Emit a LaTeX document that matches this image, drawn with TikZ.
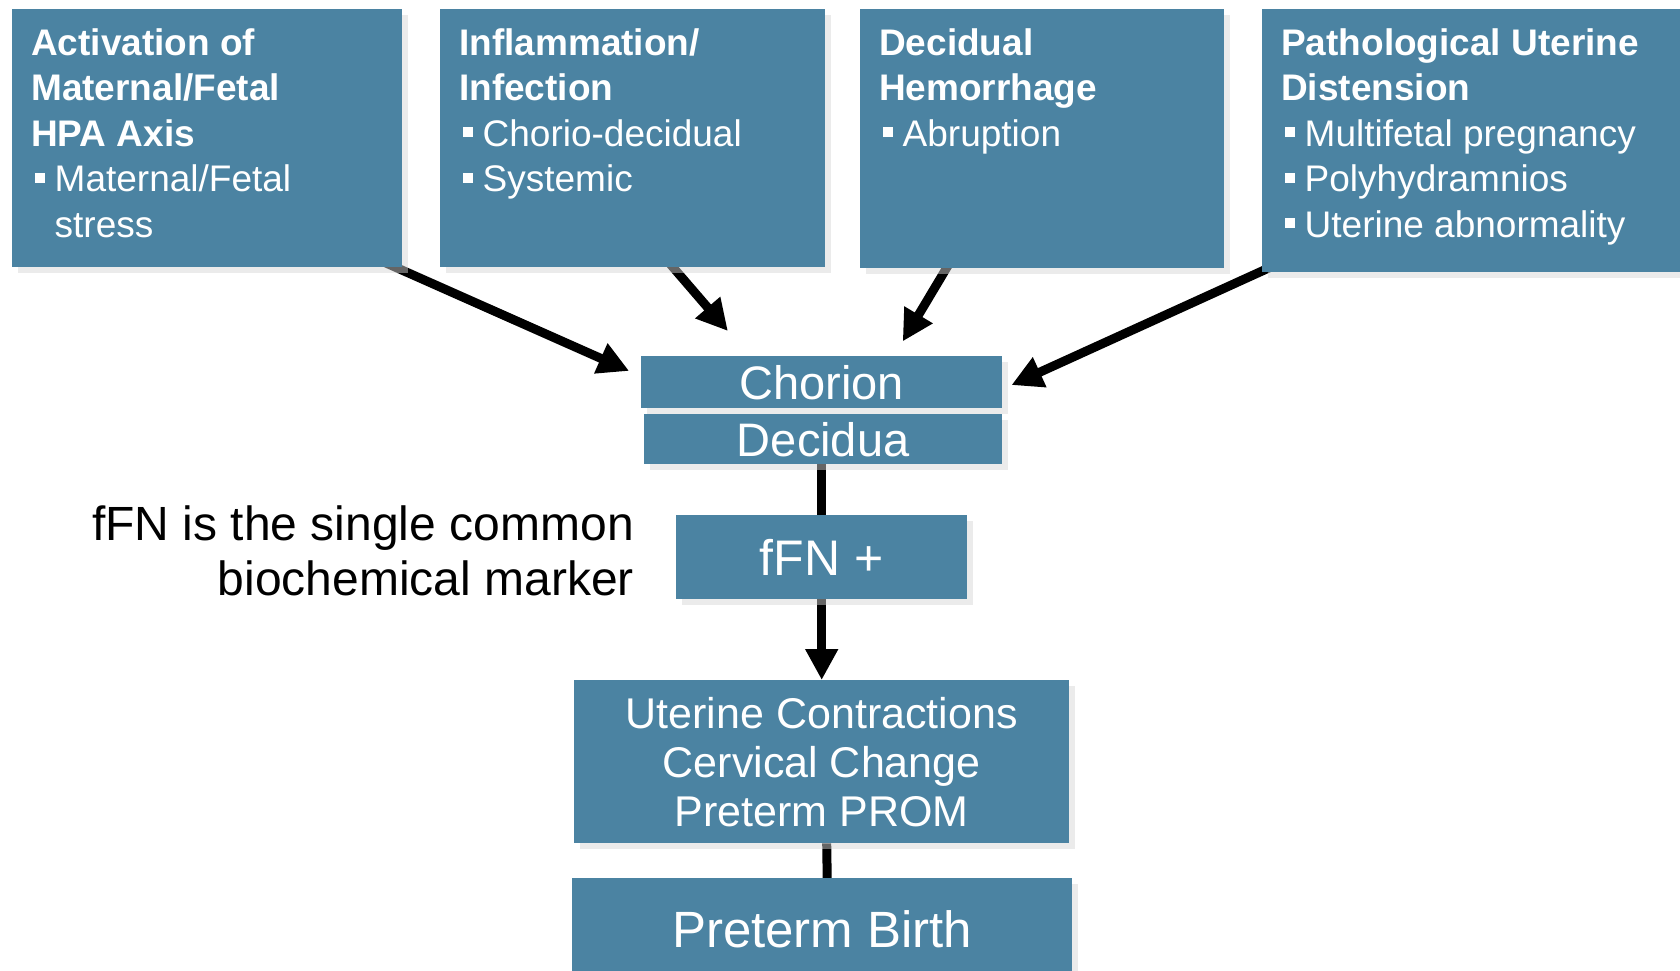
\documentclass[tikz,border=0pt]{standalone}
\usepackage{fontspec}
\setmainfont{Liberation Sans}
\usetikzlibrary{arrows.meta,shadows,calc,backgrounds}

\definecolor{boxblue}{RGB}{75,131,162}
\definecolor{shadowgrey}{RGB}{213,213,213}

% square bullet with hanging indent
\newcommand{\sqitem}[1]{\par\hangindent=23.5pt\hangafter=1\noindent
  \makebox[23.5pt][l]{\hspace{3.5pt}\rule[9pt]{10pt}{10pt}}#1}

\tikzset{
  box/.style={fill=boxblue, text=white, inner sep=0pt, anchor=north west,
    drop shadow={shadow xshift=6pt, shadow yshift=-6pt, fill=shadowgrey, opacity=0.48}},
  causebox/.style={box, inner xsep=19pt, inner ysep=0pt,
    font=\fontsize{37pt}{45.5pt}\selectfont},
  flowbox/.style={box, align=center},
  arrowline/.style={line width=9pt, -{Triangle[length=31pt,width=31pt]}},
  plainline/.style={line width=9pt},
}

\begin{document}
\begin{tikzpicture}[x=1pt, y=-1pt]
    \useasboundingbox (0,0) rectangle (1680,970);

    % Draw the four causes
    \node[causebox] (act) at (12,9) {\parbox[c][258pt][t]{352pt}{\raggedright\vspace*{19pt}%
        \textbf{Activation of\\Maternal/Fetal\\HPA Axis}\sqitem{Maternal/Fetal\newline stress}}};
    \node[causebox] (infl) at (440,9) {\parbox[c][258pt][t]{347pt}{\raggedright\vspace*{19pt}%
        \textbf{Inflammation/\\Infection}\sqitem{Chorio-decidual}\sqitem{Systemic}}};
    \node[causebox] (hem) at (860,9) {\parbox[c][259pt][t]{326pt}{\raggedright\vspace*{19pt}%
        \textbf{Decidual\\Hemorrhage}\sqitem{Abruption}}};
    \node[causebox] (dist) at (1262,9) {\parbox[c][263pt][t]{420pt}{\raggedright\vspace*{19pt}%
        \textbf{Pathological Uterine\\Distension}\sqitem{Multifetal pregnancy}%
        \sqitem{Polyhydramnios}\sqitem{Uterine abnormality}}};

    % Draw the pathway
    \node[flowbox, minimum width=361, minimum height=52, font=\fontsize{47pt}{50pt}\selectfont]
        (chorion) at (641,356) {Chorion};
    \node[flowbox, minimum width=358, minimum height=50, font=\fontsize{47pt}{50pt}\selectfont]
        (decidua) at (644,414) {Decidua};
    \node[flowbox, minimum width=291, minimum height=84, font=\fontsize{50pt}{55pt}\selectfont]
        (ffn) at (676,515) {fFN +};
    \node[flowbox, minimum width=495, minimum height=163, font=\fontsize{43pt}{49pt}\selectfont]
        (uterine) at (574,680) {Uterine Contractions\\Cervical Change\\Preterm PROM};
    \node[flowbox, minimum width=500, minimum height=103, font=\fontsize{51pt}{55pt}\selectfont]
        (birth) at (572,878) {Preterm Birth};

    % Side note
    \node[anchor=north east, inner sep=0pt, align=right, font=\fontsize{48pt}{55pt}\selectfont]
        (marker) at (634,506) {fFN is the single common\\biochemical marker};

    % Draw the connectors
    \begin{pgfonlayer}{background}
        \draw[arrowline, shorten >=13pt] ([xshift=-20pt,yshift=6pt]act.south east)
            -- ([yshift=6pt]chorion.west);
        \draw[arrowline, shorten >=33pt] ($(infl.south west)!0.587!(infl.south east)+(0,-8)$)
            -- ($(chorion.north west)!0.3!(chorion.north east)$);
        \draw[arrowline, shorten >=17pt] ($(hem.south west)!0.25!(hem.south east)+(0,-8)$)
            -- ($(chorion.north west)!0.7!(chorion.north east)$);
        \draw[arrowline, shorten >=10pt] ([xshift=19pt,yshift=10pt]dist.south west)
            -- ([yshift=-7pt]chorion.east);

        \draw[plainline] (ffn.north |- decidua.south) -- (ffn.north);
        \draw[arrowline] (ffn.south) -- (uterine.north);
        \draw[plainline] ([xshift=5pt]uterine.south) -- ([xshift=5pt]birth.north);
    \end{pgfonlayer}

\end{tikzpicture}
\end{document}
